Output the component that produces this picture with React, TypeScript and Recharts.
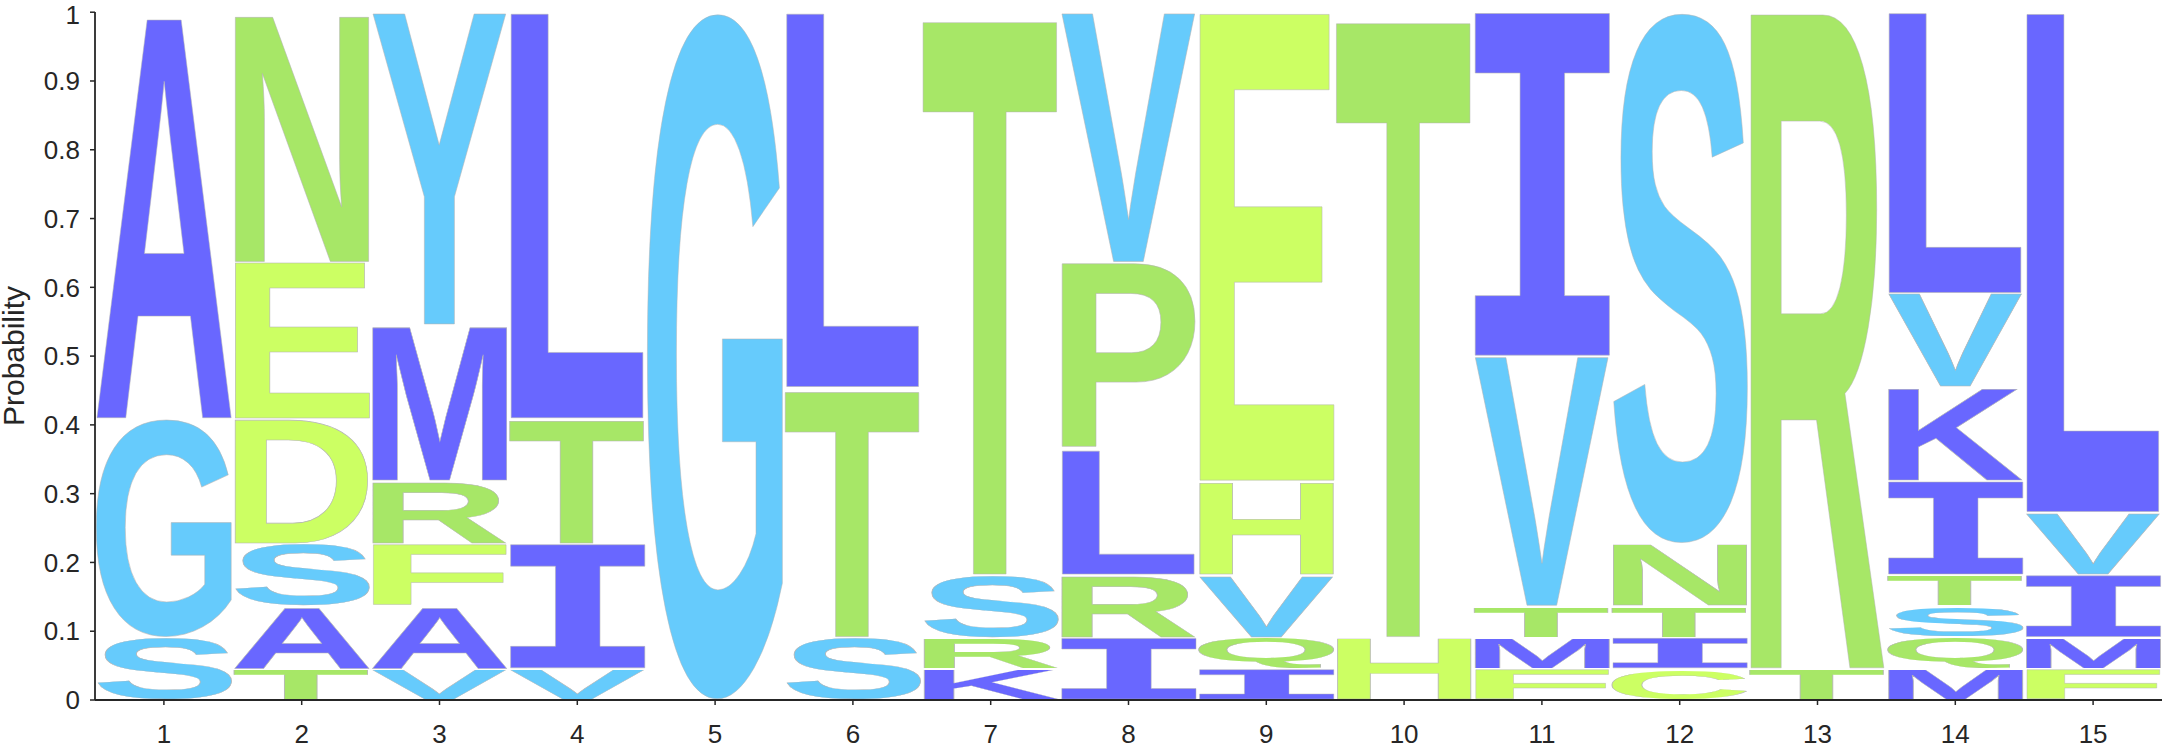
import { BarChart, Bar, XAxis, YAxis } from "recharts";

const positions = [1, 2, 3, 4, 5, 6, 7, 8, 9, 10, 11, 12, 13, 14, 15];

// residues at each position, listed bottom to top
const residues = [
  ["S", "G", "A"],
  ["T", "A", "S", "D", "E", "N"],
  ["V", "A", "F", "R", "M", "Y"],
  ["V", "I", "T", "L"],
  ["G"],
  ["S", "T", "L"],
  ["K", "R", "S", "T"],
  ["I", "R", "L", "P", "V"],
  ["I", "Q", "V", "H", "E"],
  ["H", "T"],
  ["F", "M", "T", "V", "I"],
  ["C", "I", "T", "N", "S"],
  ["T", "R"],
  ["M", "Q", "S", "T", "I", "K", "V", "L"],
  ["F", "M", "I", "V", "L"],
];

const probabilities = [
  [0.0909, 0.3182, 0.5909],
  [0.0455, 0.0909, 0.0909, 0.1818, 0.2273, 0.3636],
  [0.0455, 0.0909, 0.0909, 0.0909, 0.2273, 0.4545],
  [0.0455, 0.1818, 0.1818, 0.5909],
  [1.0],
  [0.0909, 0.3636, 0.5455],
  [0.0455, 0.0455, 0.0909, 0.8182],
  [0.0909, 0.0909, 0.1818, 0.2727, 0.3636],
  [0.0455, 0.0455, 0.0909, 0.1364, 0.6818],
  [0.0909, 0.9091],
  [0.0455, 0.0455, 0.0455, 0.3636, 0.5],
  [0.0455, 0.0455, 0.0455, 0.0909, 0.7727],
  [0.0455, 0.9545],
  [0.0455, 0.0455, 0.0455, 0.0455, 0.1364, 0.1364, 0.1364, 0.4091],
  [0.0455, 0.0455, 0.0909, 0.0909, 0.7273],
];

const yTicks = [0, 0.1, 0.2, 0.3, 0.4, 0.5, 0.6, 0.7, 0.8, 0.9, 1];

const PURPLE = "#6967ff";
const BLUE = "#66cbfc";
const GREEN = "#a7e767";
const YELLOW = "#ccff63";

const residueColors: Record<string, string> = {
  A: PURPLE, I: PURPLE, K: PURPLE, L: PURPLE, M: PURPLE,
  G: BLUE, S: BLUE, V: BLUE, Y: BLUE,
  N: GREEN, P: GREEN, Q: GREEN, R: GREEN, T: GREEN,
  C: YELLOW, D: YELLOW, E: YELLOW, F: YELLOW, H: YELLOW,
};

const AXIS = "#262626";
const FONT = "'Liberation Sans', Arial, sans-serif";
// the logo's I has cross bars, which the sans face lacks
const SERIF_I_FONT = "'DejaVu Sans Mono', monospace";

const levels = [0, 1, 2, 3, 4, 5, 6, 7];

const rows = positions.map((pos, i) => {
  const row: Record<string, number> = { pos };
  probabilities[i].forEach((p, k) => {
    row["r" + k] = p;
  });
  return row;
});

const glyphFont = (ch: string) => (ch === "I" ? SERIF_I_FONT : FONT);

// ink box of a glyph at 100px, so it can be stretched to fill a cell
const boxCache: Record<string, { l: number; r: number; a: number; d: number }> = {};
function glyphBox(ch: string) {
  if (!boxCache[ch]) {
    const ctx = document.createElement("canvas").getContext("2d")!;
    ctx.font = `bold 100px ${glyphFont(ch)}`;
    const m = ctx.measureText(ch);
    boxCache[ch] = {
      l: m.actualBoundingBoxLeft,
      r: m.actualBoundingBoxRight,
      a: m.actualBoundingBoxAscent,
      d: m.actualBoundingBoxDescent,
    };
  }
  return boxCache[ch];
}

function letterShape(level: number) {
  return (props: any) => {
    const { x, y, width, height, payload } = props;
    const ch = payload ? residues[payload.pos - 1]?.[level] : undefined;
    if (!ch || !height || height <= 0) return <g />;
    const b = glyphBox(ch);
    const gx = x + 0.5;
    const gy = y + 0.9;
    const sx = (width - 1) / (b.l + b.r);
    const sy = (height - 1.8) / (b.a + b.d);
    return (
      <text
        transform={`translate(${gx},${gy}) scale(${sx},${sy}) translate(${b.l},${b.a})`}
        fontSize={100}
        fontFamily={glyphFont(ch)}
        fontWeight="bold"
        fill={residueColors[ch]}
        stroke="#b4b4b4"
        strokeWidth={0.6}
        vectorEffect="non-scaling-stroke"
      >
        {ch}
      </text>
    );
  };
}

export default function App() {
  return (
    <div style={{ width: 2165, height: 748, background: "#fff" }}>
      <style>{"body{margin:0}"}</style>
      <BarChart
        width={2165}
        height={748}
        data={rows}
        margin={{ top: 12, right: 3, bottom: 0, left: 0 }}
        barCategoryGap={0.5}
      >
        <XAxis
          dataKey="pos"
          interval={0}
          height={48}
          tickSize={5}
          tickMargin={20}
          axisLine={{ stroke: AXIS, strokeWidth: 1.8 }}
          tickLine={{ stroke: AXIS, strokeWidth: 1.5 }}
          tick={{ fill: AXIS, fontSize: 26, fontFamily: FONT }}
        />
        <YAxis
          type="number"
          domain={[0, 1]}
          ticks={yTicks}
          width={95}
          tickSize={5}
          tickMargin={10}
          axisLine={{ stroke: AXIS, strokeWidth: 1.8 }}
          tickLine={{ stroke: AXIS, strokeWidth: 1.5 }}
          tick={{ fill: AXIS, fontSize: 26, fontFamily: FONT }}
          label={{
            content: (p: any) => {
              const vb = p.viewBox || { x: 0, y: 12, width: 95, height: 688 };
              const cy = vb.y + vb.height / 2;
              return (
                <text
                  x={23.5}
                  y={cy}
                  transform={`rotate(-90 23.5 ${cy})`}
                  textAnchor="middle"
                  fill={AXIS}
                  fontSize={30}
                  fontFamily={FONT}
                >
                  Probability
                </text>
              );
            },
          }}
        />
        {levels.map((k) => (
          <Bar
            key={k}
            dataKey={"r" + k}
            stackId="logo"
            isAnimationActive={false}
            shape={letterShape(k)}
          />
        ))}
      </BarChart>
    </div>
  );
}
